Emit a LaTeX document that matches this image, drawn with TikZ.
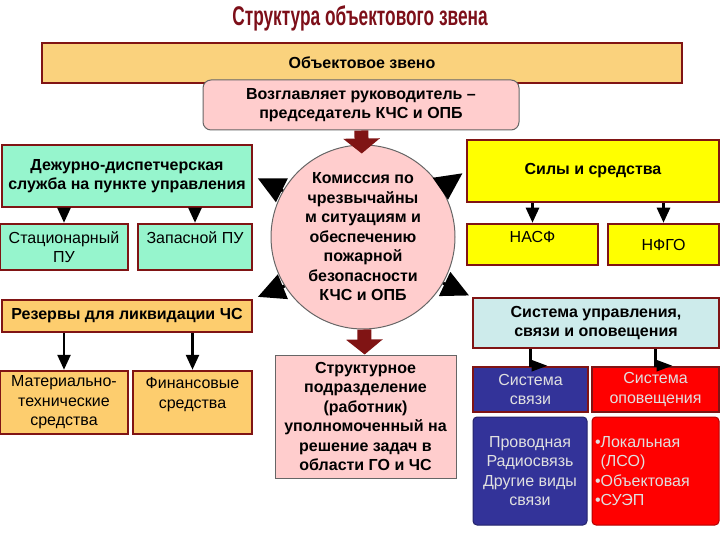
\documentclass[tikz,border=0pt]{standalone}
\usepackage{fontspec}
\setmainfont{Liberation Sans}
\newfontfamily\titlefont[FakeStretch=0.64]{Liberation Sans}
\usetikzlibrary{arrows.meta}
\definecolor{zvred}{RGB}{125,15,25}
\definecolor{frame}{RGB}{128,20,20}
\definecolor{zvorange}{RGB}{250,210,125}
\definecolor{rezorange}{RGB}{253,205,110}
\definecolor{aquac}{RGB}{150,245,205}
\definecolor{pinkc}{RGB}{255,205,205}
\definecolor{cyanc}{RGB}{205,235,235}
\definecolor{yellowc}{RGB}{255,255,0}
\definecolor{blueb}{RGB}{51,51,153}
\definecolor{redb}{RGB}{255,0,0}
\newcommand\boxfont{\fontsize{16}{19.5}\selectfont}
\begin{document}
\begin{tikzpicture}[x=1pt, y=-1pt, >={Triangle[length=15pt,width=13pt]},
    box/.style={draw=frame, line width=2.5pt, inner sep=2pt, align=center, font=\boxfont},
    head/.style={box, font=\boxfont\bfseries},
    soft/.style={draw=black!60, line width=1pt, fill=pinkc, align=center, font=\boxfont\bfseries},
    dark/.style={box, text=white!88!black},
    blk/.style={->, line width=2.5pt},
    fat/.style={draw=frame, line width=14pt, -{Triangle[length=15pt,width=36pt]}},
    diag/.style={-{Triangle[length=27pt,width=26pt]}, line width=3pt},
    elbow/.style={-{Triangle[length=16pt,width=11pt]}, line width=2.5pt}]
    \useasboundingbox (0, 0) rectangle (720, 540);
    % title and top
    \node[font=\titlefont\fontsize{27}{30}\selectfont\bfseries, text=zvred] (title) at (360, 18) {Структура объектового звена};
    \node[head, fill=zvorange, minimum width=640, minimum height=40] (zveno) at (362, 63) {Объектовое звено};
    \node[soft, rounded corners=8pt, minimum width=316, minimum height=50] (vozgl) at (361, 105) {Возглавляет руководитель --\\председатель КЧС и ОПБ};
    \node[soft, circle, minimum size=184, inner sep=0pt] (komis) at (363, 237)
        {Комиссия по\\чрезвычайны\\м ситуациям и\\обеспечению\\пожарной\\безопасности\\КЧС и ОПБ};
    \node[soft, minimum width=181, minimum height=123] (strukt) at (365.5, 416.5)
        {Структурное\\подразделение\\(работник)\\уполномоченный на\\решение задач в\\области ГО и ЧС};
    % left side
    \node[head, fill=aquac, minimum width=250, minimum height=62] (dezhur) at (127, 176) {Дежурно-диспетчерская\\служба на пункте управления};
    \node[box, fill=aquac, minimum width=128, minimum height=46] (stac) at (64, 247) {Стационарный\\ПУ};
    \node[box, fill=aquac, minimum width=114, minimum height=46] (zapas) at (195, 247) {Запасной ПУ\\~};
    \node[head, fill=rezorange, minimum width=250, minimum height=32] (rezerv) at (127, 316) {Резервы для ликвидации ЧС};
    \node[box, fill=rezorange, minimum width=128, minimum height=63] (mater) at (64, 402.5) {Материально-\\технические\\средства};
    \node[box, fill=rezorange, minimum width=119, minimum height=63] (finans) at (192.5, 402.5) {Финансовые\\средства\\~};
    % right side
    \node[head, fill=yellowc, minimum width=252, minimum height=62] (sily) at (593, 171) {Силы и средства};
    \node[box, fill=yellowc, minimum width=131, minimum height=41, text depth=16pt] (nasf) at (532.5, 244.5) {НАСФ};
    \node[box, fill=yellowc, minimum width=111, minimum height=41] (nfgo) at (663.5, 244.5) {НФГО};
    \node[head, fill=cyanc, minimum width=246, minimum height=50] (upr) at (596, 323) {Система управления,\\связи и оповещения};
    \node[dark, fill=blueb, minimum width=115, minimum height=45] (svyaz) at (530.5, 389.5) {Система\\связи};
    \node[dark, fill=redb, minimum width=127, minimum height=45] (opov) at (655.5, 389.5) {Система\\оповещения};
    \node[dark, fill=blueb, draw=blueb!70!black, line width=1pt, rounded corners=4pt, minimum width=114, minimum height=108] (provod) at (530, 471)
        {Проводная\\Радиосвязь\\Другие виды\\связи};
    \node[dark, fill=redb, draw=redb!70!black, line width=1pt, rounded corners=4pt, minimum width=127, minimum height=108,
        text width=121, inner xsep=3pt, align=left] (lokal) at (655.5, 471)
        {\textbullet Локальная\\\hphantom{\textbullet}(ЛСО)\\\textbullet Объектовая\\\textbullet СУЭП};
    % arrows
    \draw[fat, shorten >=-9pt] (vozgl) -- (komis);
    \draw[fat] (komis) -- (strukt);
    \draw[blk] (dezhur.south -| stac.north) -- (stac.north);
    \draw[blk] (dezhur.south -| zapas.north) -- (zapas.north);
    \draw[blk] (rezerv.south -| mater.north) -- (mater.north);
    \draw[blk] (rezerv.south -| finans.north) -- (finans.north);
    \draw[blk] (sily.south -| nasf.north) -- (nasf.north);
    \draw[blk] (sily.south -| nfgo.north) -- (nfgo.north);
    \draw[elbow] (upr.south -| svyaz.north) |- ([xshift=17pt]svyaz.north);
    \draw[elbow] (upr.south -| opov.north) |- ([xshift=17pt]opov.north);
    \draw[diag, shorten >=5pt] (komis.150) -- (dezhur.east);
    \draw[diag, shorten >=5pt] (komis.212) -- (rezerv.north east);
    \draw[diag, shorten >=4pt] (komis.32) -- (sily.west);
    \draw[diag, shorten >=3pt] (komis.-30) -- (upr.north west);
\end{tikzpicture}
\end{document}
